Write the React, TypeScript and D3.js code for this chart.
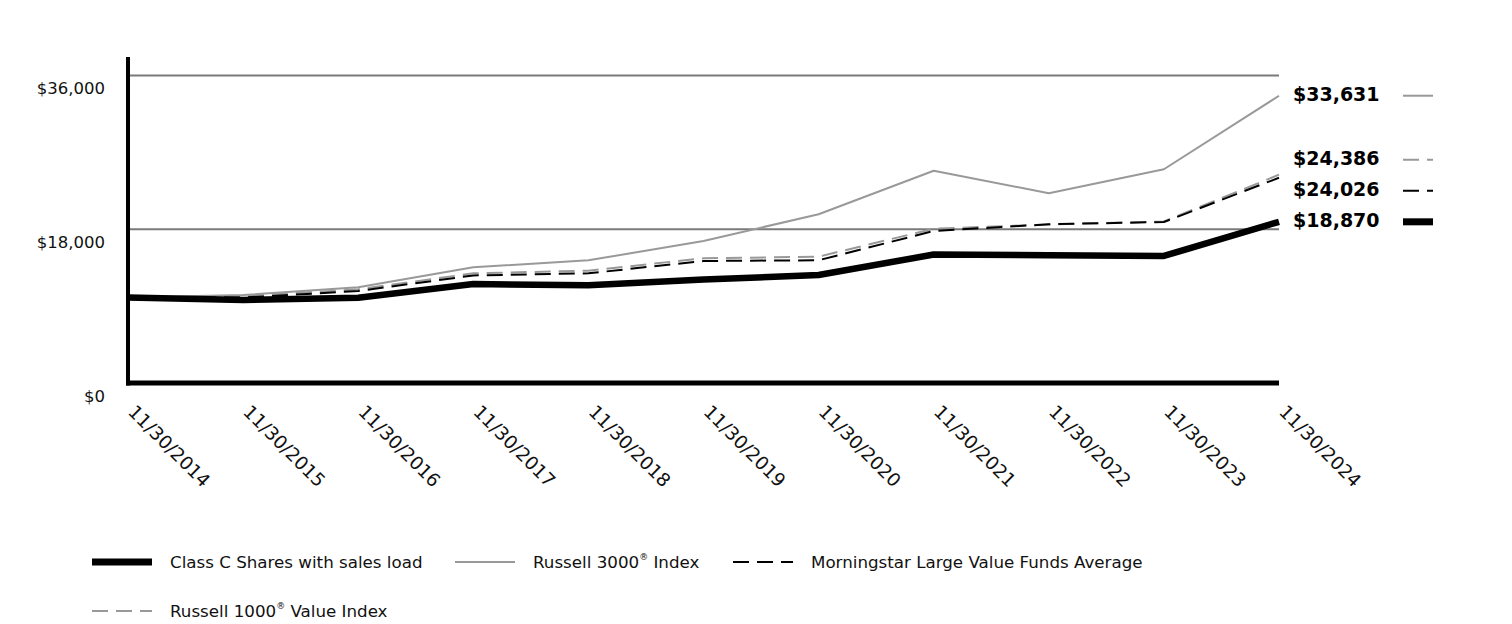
import React from "react";
import * as d3 from "d3";

const dates = ["11/30/2014","11/30/2015","11/30/2016","11/30/2017","11/30/2018","11/30/2019","11/30/2020","11/30/2021","11/30/2022","11/30/2023","11/30/2024"];
const classC = [10000, 9720, 9990, 11590, 11440, 12120, 12640, 15040, 14950, 14870, 18870];
const russell3000 = [10000, 10300, 11200, 13550, 14360, 16620, 19760, 24850, 22210, 25020, 33631];
const russell1000V = [10000, 10150, 10970, 12840, 13150, 14600, 14790, 18060, 18560, 18910, 24386];
const morningstar = [10000, 10000, 10770, 12590, 12840, 14280, 14370, 17800, 18580, 18850, 24026];
const yTicks = [0, 18000, 36000];
const gridTicks = [18000, 36000];

type S = { key: string; name: string; sup?: string; after?: string; values: number[]; color: string; width: number; dash?: string };
const series: S[] = [
  { key: "c", name: "Class C Shares with sales load", values: classC, color: "#000", width: 6.5 },
  { key: "r3", name: "Russell 3000", sup: "®", after: " Index", values: russell3000, color: "#999", width: 2 },
  { key: "ms", name: "Morningstar Large Value Funds Average", values: morningstar, color: "#000", width: 2, dash: "16,8" },
  { key: "r1", name: "Russell 1000", sup: "®", after: " Value Index", values: russell1000V, color: "#999", width: 2, dash: "16,8" },
];
const drawOrder = ["r3", "r1", "ms", "c"];

const fmt = (v: number) => "$" + d3.format(",")(v);
const FONT = "'DejaVu Sans', sans-serif";

export default function App() {
  const W = 1512, H = 624;
  const x = d3.scalePoint<string>().domain(dates).range([128, 1279]).padding(0);
  const y = d3.scaleLinear().domain([0, 38000]).range([383, 58.4]);
  const line = d3.line<number>().x((_, i) => x(dates[i]) as number).y((v) => y(v));
  const xEnd = x(dates[dates.length - 1]) as number;

  // end labels: spread overlapping labels apart, keep the bottom one anchored
  const GAP = 31;
  const ends = series
    .map((s) => ({ s, v: s.values[s.values.length - 1], ly: y(s.values[s.values.length - 1]) }))
    .sort((a, b) => a.ly - b.ly);
  for (let it = 0; it < 50; it++) {
    for (let i = 0; i < ends.length - 1; i++) {
      const d = ends[i + 1].ly - ends[i].ly;
      if (d < GAP) {
        const push = (GAP - d) / 2;
        ends[i].ly -= push;
        ends[i + 1].ly += push;
      }
    }
    const last = ends[ends.length - 1];
    last.ly = y(last.v);
    for (let i = ends.length - 2; i >= 0; i--) {
      ends[i].ly = Math.min(ends[i].ly, ends[i + 1].ly - GAP);
    }
  }

  const legendPos = series.map((s, i) => {
    const cols = [92, 455, 733];
    const row = i < 3 ? 0 : 1;
    const col = i < 3 ? i : 0;
    return { s, x0: cols[col], yy: 562 + row * 49 };
  });

  return (
    <svg width={W} height={H} style={{ position: "absolute", left: 0, top: 0, background: "#fff" }} fontFamily={FONT}>
      {gridTicks.map((t) => (
        <line key={t} x1={128} x2={xEnd} y1={y(t)} y2={y(t)} stroke="#7a7a7a" strokeWidth={1.8} />
      ))}
      {yTicks.map((t) => (
        <text key={t} x={105} y={y(t) + 14} textAnchor="end" dominantBaseline="middle" fontSize={16.5} fill="#111">
          {fmt(t)}
        </text>
      ))}
      {drawOrder.map((k) => {
        const s = series.find((d) => d.key === k)!;
        return (
          <path key={k} d={line(s.values) || ""} fill="none" stroke={s.color} strokeWidth={s.width}
            strokeDasharray={s.dash} strokeLinejoin="round" />
        );
      })}
      <line x1={128} x2={128} y1={57} y2={385.5} stroke="#000" strokeWidth={4} />
      <line x1={126} x2={xEnd} y1={383} y2={383} stroke="#000" strokeWidth={5} />
      {dates.map((d) => {
        const xx = x(d) as number;
        return (
          <text key={d} transform={`translate(${xx - 1},${413}) rotate(45)`} fontSize={18.5} fill="#111">
            {d}
          </text>
        );
      })}
      {ends.map((p) => (
        <g key={p.s.key}>
          <text x={1293} y={p.ly} dominantBaseline="middle" fontSize={19} fontWeight="bold" fill="#000">
            {fmt(p.v)}
          </text>
          <line x1={1403} x2={1433} y1={p.ly} y2={p.ly} stroke={p.s.color} strokeWidth={p.s.key === "c" ? 7 : 2}
            strokeDasharray={p.s.dash} />
        </g>
      ))}
      {legendPos.map(({ s, x0, yy }) => (
        <g key={s.key}>
          <line x1={x0} x2={x0 + 60} y1={yy} y2={yy} stroke={s.color} strokeWidth={s.key === "c" ? 7 : 2}
            strokeDasharray={s.dash} />
          <text x={x0 + 78} y={yy + 1} dominantBaseline="middle" fontSize={16.7} fill="#111">
            {s.name}
            {s.sup && <tspan fontSize={9} dy={-6}>{s.sup}</tspan>}
            {s.after && <tspan dy={6}>{s.after}</tspan>}
          </text>
        </g>
      ))}
    </svg>
  );
}
